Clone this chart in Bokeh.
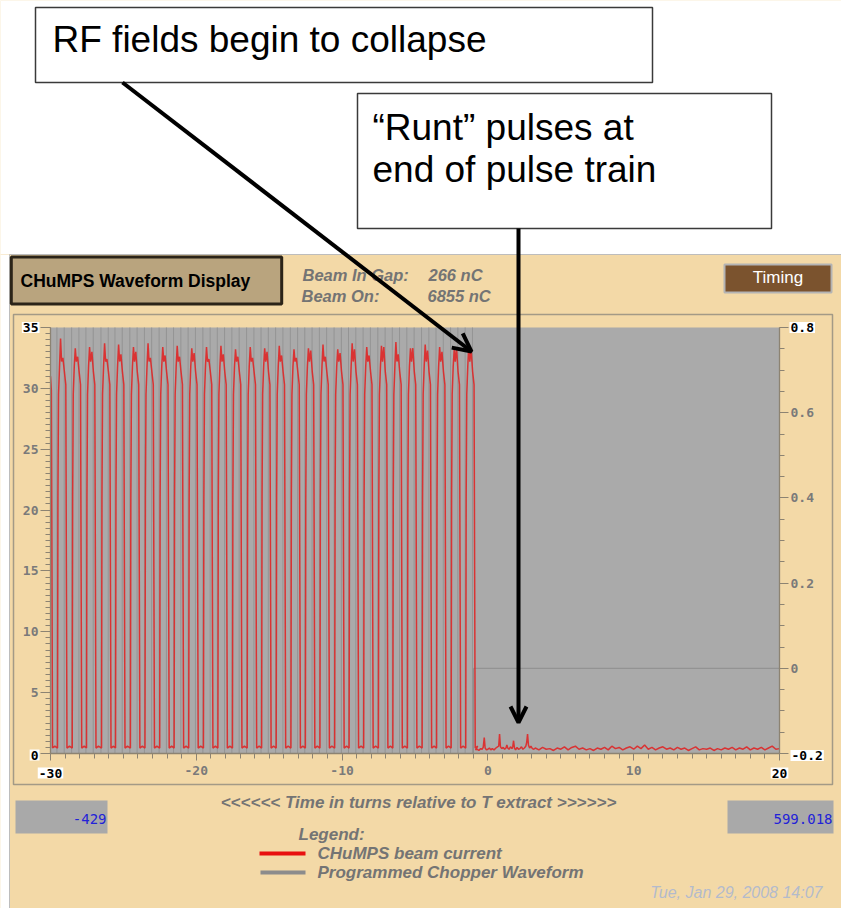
from bokeh.plotting import figure
from bokeh.models import (Range1d, LinearAxis, FixedTicker, BoxAnnotation, Label,
                          Arrow, OpenHead, ColumnDataSource)
from bokeh.embed import file_html
from bokeh.resources import INLINE

# ---------------- data ----------------
x_ticks = [-30, -20, -10, 0, 10, 20]
x_tick_labels = ["-30", "-20", "-10", "0", "10", "20"]
y_ticks = [0, 5, 10, 15, 20, 25, 30, 35]
y_tick_labels = ["0", "5", "10", "15", "20", "25", "30", "35"]
y2_ticks = [-0.2, 0.0, 0.2, 0.4, 0.6, 0.8]
y2_tick_labels = ["-0.2", "0", "0.2", "0.4", "0.6", "0.8"]

# beam current pulses (turns / left-axis units)
pulse_rise = [-29.52, -28.51, -27.53, -26.50, -25.54, -24.52, -23.52, -22.51, -21.52, -20.52,
              -19.51, -18.52, -17.52, -16.51, -15.52, -14.52, -13.51, -12.52, -11.52, -10.51,
              -9.52, -8.52, -7.51, -6.52, -5.52, -4.51, -3.52, -2.52, -1.52]
pulse_peak = [34.1, 33.3, 33.4, 33.7, 33.6, 33.4, 33.7, 33.4, 33.5, 33.3,
              33.4, 33.5, 33.2, 33.4, 33.3, 33.5, 33.2, 33.3, 33.6, 33.2,
              33.7, 33.4, 33.5, 33.8, 33.3, 33.6, 33.4, 33.2, 33.5]
pulse_second = [32.5, 32.6, 33.0, 32.4, 32.8, 33.0, 32.5, 32.7, 32.6, 32.9,
                32.4, 32.8, 32.6, 32.5, 33.0, 32.7, 32.5, 33.1, 32.6, 32.9,
                33.2, 32.7, 33.4, 32.8, 33.3, 33.1, 33.0, 33.3, 33.2]
pulse_shape_dt = [0.00, 0.03, 0.07, 0.14, 0.21, 0.28, 0.37, 0.47, 0.57, 0.61, 0.65, 0.82]
pulse_shape_fixed = [0.45, 21.0, 29.5, 31.8, None, 32.2, None, 31.4, 30.3, 15.0, 0.45, 0.6]

head_t = [-30.0, -29.94, -29.90, -29.86, -29.70]
head_y = [31.0, 29.8, 15.0, 0.45, 0.6]

tail_t = [-0.85, -0.75, -0.62, -0.5, -0.4, -0.32, -0.25, -0.19, -0.1, 0.0,
          0.1, 0.2, 0.3, 0.42, 0.55, 0.66, 0.74, 0.8, 0.86, 0.95,
          1.05, 1.15, 1.24, 1.3, 1.36, 1.45, 1.55, 1.65, 1.71, 1.76,
          1.82, 1.9, 2.0, 2.1, 2.2, 2.3, 2.4, 2.5, 2.6, 2.66,
          2.72, 2.78, 2.86, 2.95, 3.05, 3.15]
tail_y = [0.3, 0.35, 0.25, 0.4, 0.35, 0.5, 1.3, 0.45, 0.3, 0.35,
          0.45, 0.3, 0.4, 0.3, 0.45, 0.55, 0.6, 1.6, 0.55, 0.4,
          0.5, 0.35, 0.45, 0.7, 0.45, 0.35, 0.55, 0.4, 0.6, 1.05,
          0.45, 0.3, 0.5, 0.35, 0.4, 0.55, 0.35, 0.45, 0.6, 0.9,
          1.6, 0.7, 0.45, 0.6, 0.4, 0.35]

noise_t = [3.25, 3.5, 3.75, 4.0, 4.25, 4.5, 4.75, 5.0, 5.25, 5.5, 5.75, 6.0,
           6.25, 6.5, 6.75, 7.0, 7.25, 7.5, 7.75, 8.0, 8.25, 8.5, 8.75, 9.0,
           9.25, 9.5, 9.75, 10.0, 10.25, 10.5, 10.75, 11.0, 11.25, 11.5, 11.75, 12.0,
           12.25, 12.5, 12.75, 13.0, 13.25, 13.5, 13.75, 14.0, 14.25, 14.5, 14.75, 15.0,
           15.25, 15.5, 15.75, 16.0, 16.25, 16.5, 16.75, 17.0, 17.25, 17.5, 17.75, 18.0,
           18.25, 18.5, 18.75, 19.0, 19.25, 19.5, 19.75, 20.0]
noise_y = [0.45, 0.3, 0.5, 0.35, 0.4, 0.25, 0.45, 0.35, 0.55, 0.3, 0.5, 0.6,
           0.35, 0.45, 0.3, 0.4, 0.25, 0.45, 0.35, 0.5, 0.3, 0.6, 0.4, 0.5,
           0.3, 0.45, 0.55, 0.35, 0.6, 0.4, 0.7, 0.35, 0.5, 0.3, 0.45, 0.55,
           0.35, 0.45, 0.3, 0.5, 0.35, 0.45, 0.25, 0.4, 0.55, 0.3, 0.4, 0.35,
           0.45, 0.25, 0.4, 0.3, 0.45, 0.35, 0.5, 0.3, 0.45, 0.35, 0.55, 0.3,
           0.45, 0.35, 0.5, 0.3, 0.45, 0.6, 0.35, 0.4]

# programmed chopper waveform (right axis): switching edges, then off at 0
chop_up = [-29.56, -28.55, -27.57, -26.54, -25.58, -24.56, -23.56, -22.55, -21.56, -20.56,
           -19.55, -18.56, -17.56, -16.55, -15.56, -14.56, -13.55, -12.56, -11.56, -10.55,
           -9.56, -8.56, -7.55, -6.56, -5.56, -4.55, -3.56, -2.56, -1.56]
chop_down = [-29.06, -28.05, -27.07, -26.04, -25.08, -24.06, -23.06, -22.05, -21.06, -20.06,
             -19.05, -18.06, -17.06, -16.05, -15.06, -14.06, -13.05, -12.06, -11.06, -10.05,
             -9.06, -8.06, -7.05, -6.06, -5.06, -4.05, -3.06, -2.06, -1.06]
chop_high = 0.8
chop_low = -0.2
chop_off_time = -0.99
chop_off_level = 0.0

beam_in_gap = "266 nC"
beam_on = "6855 nC"
left_readout = "-429"
right_readout = "599.018"
timestamp = "Tue, Jan 29, 2008 14:07"

# ---------------- build series ----------------
red_t = list(head_t)
red_y = list(head_y)
for r, pk, sec in zip(pulse_rise, pulse_peak, pulse_second):
    levels = list(pulse_shape_fixed)
    levels[4] = pk
    levels[6] = sec
    red_t += [r + d for d in pulse_shape_dt]
    red_y += levels
red_t += tail_t + noise_t
red_y += tail_y + noise_y

edges = sorted(chop_up + chop_down)

# ---------------- layout / styles ----------------
W, H = 841, 908
PX_XA, PX_XB = 50, 779      # canvas x of x=-30 and x=20
PX_YA, PX_YB = 753, 327     # canvas y of the bottom and top of the plot area


def rng_for(v0, v1, p0, p1, total, flip=False):
    # range such that value v0 sits at pixel p0 and v1 at pixel p1
    per = (v1 - v0) / (p1 - p0)
    if flip:
        start = v0 - (total - p0) * (-per)
        return Range1d(start, start + total * (-per))
    start = v0 - p0 * per
    return Range1d(start, start + total * per)


BEIGE = "#F3D9A7"
PLOT_GREY = "#AAAAAA"
AXC = "#8C8372"
LBL = "#7A7A7A"
TXT_GREY = "#747474"
RED = "#DF2626"
CHOP = "#949494"
MONO = "DejaVu Sans Mono"
SANS = "Liberation Sans"

p = figure(width=W, height=H,
           x_range=rng_for(x_ticks[0], x_ticks[-1], PX_XA, PX_XB, W),
           y_range=rng_for(y_ticks[0], y_ticks[-1], PX_YA, PX_YB, H, flip=True),
           x_axis_location=None, y_axis_location=None,
           output_backend="svg", toolbar_location=None, min_border=0,
           background_fill_color=BEIGE, border_fill_color=BEIGE, outline_line_color=None)
p.extra_y_ranges = {"chop": rng_for(y2_ticks[0], y2_ticks[-1], PX_YA, PX_YB, H, flip=True)}
p.grid.visible = False

# grey plotting area
p.add_layout(BoxAnnotation(left=x_ticks[0], right=x_ticks[-1], bottom=y_ticks[0], top=y_ticks[-1],
                           fill_color=PLOT_GREY, fill_alpha=1.0, line_alpha=0.0, level="underlay"))

# axes fixed to the edges of the plotting area
ya = LinearAxis(fixed_location=x_ticks[0], bounds=(y_ticks[0], y_ticks[-1]),
                ticker=FixedTicker(ticks=y_ticks, minor_ticks=[i * 0.5 for i in range(71)]))
ya.major_label_overrides = {t: ("" if t in (0, 35) else l) for t, l in zip(y_ticks, y_tick_labels)}
ya.major_tick_out, ya.major_tick_in = 10, 0
ya.minor_tick_out, ya.minor_tick_in = 5, 0
ya.major_label_standoff = 2

xa = LinearAxis(fixed_location=y_ticks[0], bounds=(x_ticks[0], x_ticks[-1]),
                ticker=FixedTicker(ticks=x_ticks, minor_ticks=list(range(-30, 21))))
xa.major_label_overrides = {t: ("" if t in (-30, 20) else l) for t, l in zip(x_ticks, x_tick_labels)}
xa.major_tick_out, xa.major_tick_in = 7, 0
xa.minor_tick_out, xa.minor_tick_in = 5, 0
xa.major_label_standoff = 5

ra = LinearAxis(y_range_name="chop", fixed_location=x_ticks[-1], bounds=(y2_ticks[0], y2_ticks[-1]),
                ticker=FixedTicker(ticks=y2_ticks,
                                   minor_ticks=[round(-0.2 + 0.05 * i, 2) for i in range(21)]))
ra.major_label_overrides = {t: ("" if t in (-0.2, 0.8) else l) for t, l in zip(y2_ticks, y2_tick_labels)}
ra.major_tick_out, ra.major_tick_in = 9, 0
ra.minor_tick_out, ra.minor_tick_in = 5, 0
ra.major_label_standoff = 2

for ax in (ya, xa, ra):
    ax.axis_line_color = AXC
    ax.axis_line_width = 1.3
    ax.major_tick_line_color = AXC
    ax.minor_tick_line_color = AXC
    ax.major_label_text_font = MONO
    ax.major_label_text_font_style = "bold"
    ax.major_label_text_font_size = "13px"
    ax.major_label_text_color = LBL
p.add_layout(ya, "left")
p.add_layout(xa, "below")
p.add_layout(ra, "right")

# series
p.segment(x0=edges, y0=[chop_low] * len(edges), x1=edges, y1=[chop_high] * len(edges),
          y_range_name="chop", line_color=CHOP, line_width=1)
p.line(x=[chop_off_time, chop_off_time, x_ticks[-1]], y=[chop_low, chop_off_level, chop_off_level],
       y_range_name="chop", line_color="#8E8E8E", line_width=1)
p.line(x="t", y="v", source=ColumnDataSource(dict(t=red_t, v=red_y)),
       line_color=RED, line_width=1.5, line_alpha=0.9)


# ---------------- decorations (canvas pixels) ----------------
def sx(x):
    return x


def sy(y):
    return H - y


def box(l, r, t, b, fill=None, line=None, lw=1.0):
    p.add_layout(BoxAnnotation(left=sx(l), right=sx(r), top=sy(t), bottom=sy(b),
                               left_units="screen", right_units="screen",
                               top_units="screen", bottom_units="screen",
                               fill_color=fill if fill else "white", fill_alpha=1.0 if fill else 0.0,
                               line_color=line if line else "white", line_alpha=1.0 if line else 0.0,
                               line_width=lw))


def text(x, y, s, size, color="black", font=SANS, style="normal", align="left", bg=None):
    # y is the vertical centre of the text line
    kw = {}
    if bg:
        kw = dict(background_fill_color=bg, background_fill_alpha=1.0, padding=1)
    p.add_layout(Label(x=sx(x), y=sy(y), x_units="screen", y_units="screen", text=s,
                       text_font=font, text_font_size=size, text_color=color,
                       text_font_style=style, text_align=align, text_baseline="middle", **kw))


# white slide area on top, panel border
box(-5, 850, -5, 253.5, fill="white")
box(9, 850, 254, 920, line="#BDBDBD", lw=1)
box(-5, 8.5, 254, 920, fill="white")
# plot outer frame
box(13, 832, 314, 784, line="#A39A86", lw=1.5)
# title box
box(10.8, 281.2, 256.5, 303.5, fill="#B9A47E", line="#2B2418", lw=3)
# timing button
box(724, 831, 264, 292, fill="#7B532E", line="#B4B4B4", lw=2)
# readout boxes
box(15, 107, 800, 833, fill="#A9A9A9")
box(727, 833, 800, 833, fill="#A9A9A9")
# legend swatches
box(259, 305, 851, 855, fill="#E81010")
box(260, 305, 870, 874, fill="#8C8C8C")
# annotation boxes
box(35, 652, 7, 82, fill="white", line="#3A3A3A", lw=1.5)
box(357, 771, 93, 228, fill="white", line="#3A3A3A", lw=1.5)

# highlighted axis end labels
text(39, 327, y_tick_labels[-1], "13px", font=MONO, style="bold", align="right", bg="white")
text(39, 754.5, y_tick_labels[0], "13px", font=MONO, style="bold", align="right", bg="white")
text(50, 772.5, x_tick_labels[0], "13px", font=MONO, style="bold", align="center", bg="white")
text(779, 772.5, x_tick_labels[-1], "13px", font=MONO, style="bold", align="center", bg="white")
text(789, 327, y2_tick_labels[-1], "13px", font=MONO, style="bold", align="left", bg="white")
text(790, 755, y2_tick_labels[0], "13px", font=MONO, style="bold", align="left", bg="white")

# panel texts
text(20, 280, "CHuMPS Waveform Display", "17.5px", style="bold")
text(302, 274.5, "Beam In Gap:", "16.5px", color=TXT_GREY, style="bold italic")
text(301, 295.5, "Beam On:", "16.5px", color=TXT_GREY, style="bold italic")
text(428, 274.5, beam_in_gap, "16.5px", color=TXT_GREY, style="bold italic")
text(427, 295.5, beam_on, "16.5px", color=TXT_GREY, style="bold italic")
text(777.5, 277, "Timing", "17px", color="white", align="center")
text(418, 802, "<<<<<< Time in turns relative to T extract >>>>>>", "17px",
     color=TXT_GREY, style="bold italic", align="center")
text(106, 818, left_readout, "14px", color="#2222D8", font=MONO, align="right")
text(832, 818, right_readout, "14px", color="#2222D8", font=MONO, align="right")
text(298, 833.5, "Legend:", "17px", color=TXT_GREY, style="bold italic")
text(317, 852.5, "CHuMPS beam current", "17px", color=TXT_GREY, style="bold italic")
text(317, 872, "Programmed Chopper Waveform", "17px", color=TXT_GREY, style="bold italic")
text(822, 891.5, timestamp, "16px", color="#B3BBCC", style="italic", align="right")

# slide annotations
text(52, 39, "RF fields begin to collapse", "37px")
text(372, 127, "\u201cRunt\u201d pulses at", "37px")
text(372, 169, "end of pulse train", "37px")

p.add_layout(Arrow(end=OpenHead(size=18, line_width=4, line_color="black"),
                   x_start=sx(122), y_start=sy(82), x_end=sx(471), y_end=sy(351),
                   start_units="screen", end_units="screen",
                   line_color="black", line_width=4))
p.add_layout(Arrow(end=OpenHead(size=16, line_width=4, line_color="black"),
                   x_start=sx(518), y_start=sy(228), x_end=sx(518), y_end=sy(722),
                   start_units="screen", end_units="screen",
                   line_color="black", line_width=4))

open("out.html", "w").write(file_html(p, INLINE))
